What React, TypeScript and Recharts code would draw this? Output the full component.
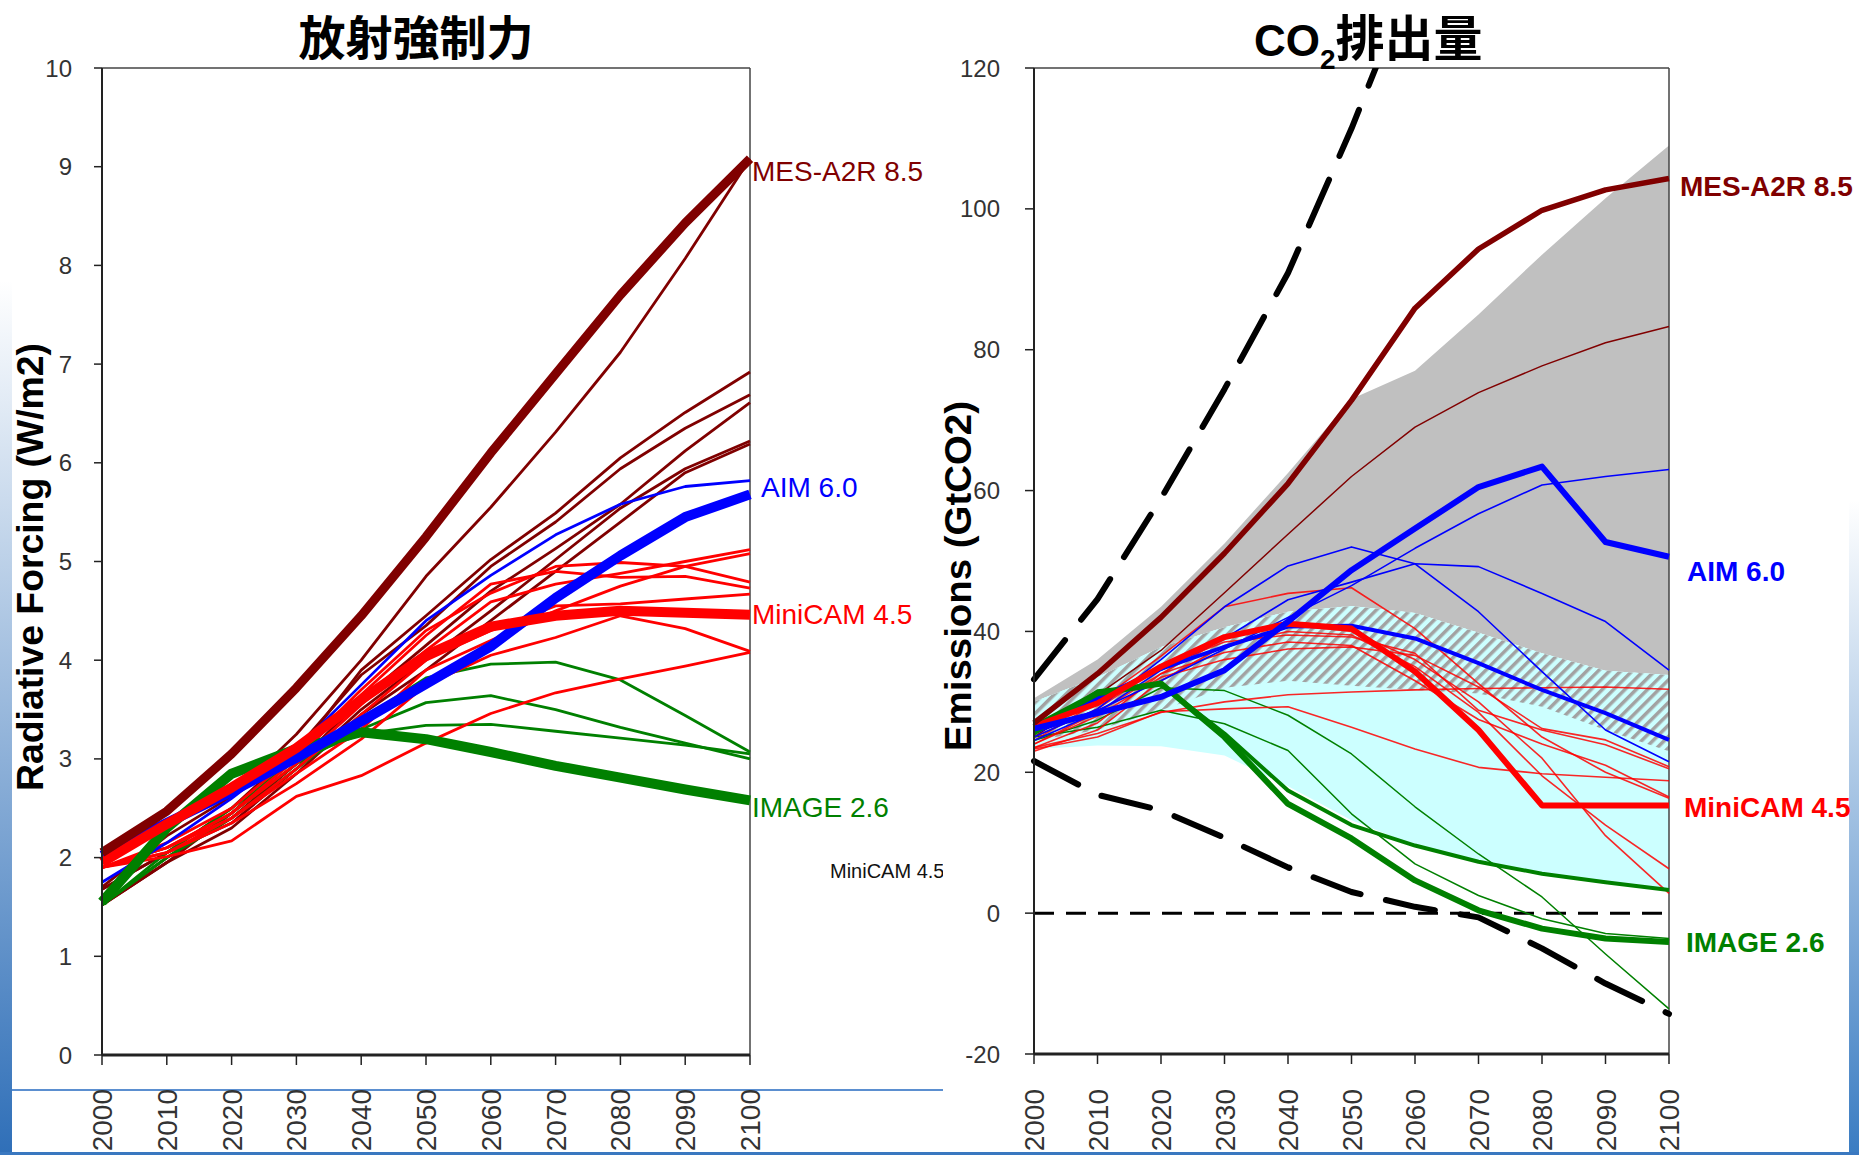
import { ComposedChart, Line, Area, XAxis, YAxis, ReferenceLine, ReferenceDot } from "recharts"

const SANS = '"Liberation Sans", Arial, sans-serif'
const CJK = '"Noto Sans CJK JP", "Noto Sans CJK SC", sans-serif'

const YEARS = [2000, 2010, 2020, 2030, 2040, 2050, 2060, 2070, 2080, 2090, 2100]
const RF_TICKS = [0, 1, 2, 3, 4, 5, 6, 7, 8, 9, 10]
const EM_TICKS = [-20, 0, 20, 40, 60, 80, 100, 120]

// radiative forcing (W/m2)
const rfMes = [2.05, 2.47, 3.05, 3.72, 4.45, 5.25, 6.1, 6.9, 7.7, 8.43, 9.08]
const rfMesOthers = [
  [1.7, 2.22, 2.62, 3.25, 4.0, 4.85, 5.55, 6.31, 7.12, 8.07, 9.08],
  [1.52, 1.95, 2.45, 3.05, 3.9, 4.45, 5.02, 5.49, 6.05, 6.51, 6.92],
  [1.68, 2.05, 2.5, 3.1, 3.85, 4.35, 4.95, 5.4, 5.94, 6.35, 6.69],
  [1.52, 2.0, 2.4, 2.95, 3.6, 4.15, 4.7, 5.13, 5.58, 6.12, 6.61],
  [1.68, 2.05, 2.35, 2.9, 3.5, 4.0, 4.5, 5.02, 5.54, 5.94, 6.22],
  [1.52, 1.95, 2.3, 2.85, 3.45, 3.9, 4.4, 4.9, 5.4, 5.9, 6.19],
]
const rfAim = [2.02, 2.35, 2.67, 3.01, 3.38, 3.76, 4.14, 4.63, 5.06, 5.45, 5.68]
const rfAimOthers = [[1.75, 2.15, 2.6, 3.1, 3.75, 4.4, 4.86, 5.27, 5.58, 5.76, 5.82]]
const rfMini = [1.95, 2.34, 2.71, 3.11, 3.6, 4.05, 4.34, 4.45, 4.5, 4.48, 4.46]
const rfMiniOthers = [
  [1.9, 2.1, 2.45, 2.95, 3.55, 4.1, 4.59, 4.77, 4.88, 5.0, 5.12],
  [1.9, 2.15, 2.5, 3.05, 3.7, 4.3, 4.68, 4.95, 4.99, 4.95, 4.79],
  [1.9, 2.1, 2.45, 3.0, 3.65, 4.25, 4.77, 4.9, 4.84, 4.85, 4.73],
  [1.9, 2.05, 2.4, 2.9, 3.45, 4.0, 4.3, 4.55, 4.57, 4.62, 4.67],
  [1.9, 2.05, 2.35, 2.75, 3.2, 3.75, 4.05, 4.23, 4.45, 4.32, 4.09],
  [1.9, 2.01, 2.17, 2.62, 2.83, 3.16, 3.46, 3.67, 3.81, 3.94, 4.08],
  [1.9, 2.1, 2.4, 2.85, 3.3, 3.9, 4.2, 4.5, 4.75, 4.95, 5.08],
]
const rfImage = [1.55, 2.3, 2.85, 3.1, 3.27, 3.2, 3.07, 2.93, 2.81, 2.69, 2.58]
const rfImageOthers = [
  [1.52, 2.0, 2.4, 2.9, 3.4, 3.82, 3.96, 3.98, 3.8, 3.44, 3.07],
  [1.52, 2.0, 2.45, 2.95, 3.3, 3.57, 3.64, 3.5, 3.32, 3.16, 3.0],
  [1.52, 2.05, 2.5, 3.0, 3.25, 3.34, 3.35, 3.28, 3.21, 3.14, 3.05],
]

// CO2 emissions (GtCO2)
const emMes = [27, 34, 42, 51.1, 61, 72.8, 85.9, 94.3, 99.8, 102.7, 104.3]
const emMesOthers = [[25, 31, 37.3, 45.5, 53.8, 62, 69, 73.9, 77.7, 81, 83.3]]
const emAim = [26.2, 28.4, 30.7, 34.5, 41.4, 48.7, 54.6, 60.5, 63.4, 52.7, 50.6]
const emAimMid = [26.5, 30.5, 34.7, 37.8, 40.7, 40.8, 39.0, 35.5, 31.7, 28.4, 24.6]
const emAimOthers = [
  [25.5, 28.8, 33, 37.5, 42, 46.5, 51.8, 56.7, 60.8, 62, 63],
  [25, 29, 36, 43.5, 49.3, 52, 49.6, 42.8, 34.3, 26, 21.5],
  [24.5, 28.5, 34.5, 39, 44.5, 47, 49.6, 49.2, 45.4, 41.4, 34.5],
]
const emMini = [26.5, 29.8, 35, 39.2, 41.1, 40.4, 34.3, 26.0, 15.3, 15.3, 15.3]
const emMiniOthers = [
  [23.5, 25.5, 28.5, 30, 31, 31.4, 31.7, 31.9, 32, 32.1, 31.8],
  [23.3, 25, 28.6, 29, 29.3, 26.4, 23.3, 20.7, 19.8, 19.3, 18.8],
  [24, 28, 33.5, 36, 37.5, 37.8, 36.6, 32.1, 26.2, 24.6, 20.8],
  [25, 29, 35, 38.5, 39.5, 39.2, 36.9, 28.8, 26, 23.9, 20.5],
  [24.5, 30, 36.5, 43.5, 45.4, 46.2, 40.4, 32.6, 25, 20, 16.3],
  [23, 26, 33, 38, 40, 39.5, 35, 28.5, 19.5, 12.5, 6.3],
  [23.5, 27, 34, 39, 41, 40, 36, 30, 22, 11, 2.8],
  [24, 28.5, 34, 37, 38.5, 38, 33, 27.5, 24, 21, 16.5],
]
const emImage = [26.4, 31.2, 32.6, 25, 15.5, 10.6, 4.65, 0.4, -2.2, -3.6, -4.1]
const emImageMid = [25.5, 31.5, 32.5, 25.5, 17.4, 12.5, 9.6, 7.3, 5.6, 4.4, 3.3]
const emImageOthers = [
  [24.5, 27.4, 32, 31.6, 28.1, 22.6, 15.1, 8.4, 2.3, -5.8, -13.6],
  [25, 26.4, 28.8, 26.9, 23.1, 14.1, 7.0, 2.5, -0.8, -2.9, -3.6],
]
const emHighEdge = [33.2, 44.6, 58.9, 74.4, 90.9, 111.4, 134, null, null, null, null]
const emLowEdge = [21.6, 16.8, 14.6, 10.7, 6.5, 3.0, 0.9, -0.6, -5.0, -10.0, -14.3]
const grayTop = [30.5, 36, 43.5, 52.5, 62.5, 73, 77, 85, 93.5, 101.5, 109]
const hatchTop = [30, 33.5, 37.8, 40.6, 42.8, 43.6, 42.6, 39.8, 36.9, 34.4, 33.8]
const hatchBottom = [24.5, 26, 28.8, 32, 33, 32.3, 31.7, 31.2, 29.3, 26, 23]
const cyanBottom = [23.3, 23.8, 23.7, 22.4, 18, 13.2, 9.6, 7.3, 5.6, 4.4, 3.5]

const rfRows = YEARS.map((year, i) => {
  const row: any = { year, mes: rfMes[i], aim: rfAim[i], mini: rfMini[i], image: rfImage[i] }
  rfMesOthers.forEach((s, k) => (row["mes" + k] = s[i]))
  rfAimOthers.forEach((s, k) => (row["aim" + k] = s[i]))
  rfMiniOthers.forEach((s, k) => (row["mini" + k] = s[i]))
  rfImageOthers.forEach((s, k) => (row["image" + k] = s[i]))
  return row
})

const emRows = YEARS.map((year, i) => {
  const row: any = {
    year,
    mes: emMes[i], aim: emAim[i], aimMid: emAimMid[i], mini: emMini[i],
    image: emImage[i], imageMid: emImageMid[i],
    high: emHighEdge[i], low: emLowEdge[i],
    gray: [hatchTop[i], grayTop[i]],
    cyan: [cyanBottom[i], hatchTop[i]],
    hatch: [hatchBottom[i], hatchTop[i]],
  }
  emMesOthers.forEach((s, k) => (row["mes" + k] = s[i]))
  emAimOthers.forEach((s, k) => (row["aim" + k] = s[i]))
  emMiniOthers.forEach((s, k) => (row["mini" + k] = s[i]))
  emImageOthers.forEach((s, k) => (row["image" + k] = s[i]))
  return row
})

const MAROON = "#800000"
const BLUE = "#0000ff"
const RED = "#ff0000"
const GREEN = "#008000"

function series(key: string, color: string, width: number, extra: any = {}) {
  return (
    <Line
      key={key}
      dataKey={key}
      type="linear"
      stroke={color}
      strokeWidth={width}
      strokeLinejoin="round"
      dot={false}
      activeDot={false}
      isAnimationActive={false}
      {...extra}
    />
  )
}

function YearTick(props: any) {
  const { x, y, payload } = props
  return (
    <text
      x={x}
      y={y}
      transform={`rotate(-90 ${x} ${y})`}
      textAnchor="end"
      dy="0.36em"
      fontSize={28}
      fill="#333"
      fontFamily={SANS}
    >
      {payload.value}
    </text>
  )
}

function EndLabel(props: any) {
  const { viewBox, text, color, dx = 0, dy = 0, weight = 400 } = props
  if (!viewBox) return null
  return (
    <text
      x={viewBox.x + (viewBox.width || 0) + dx}
      y={viewBox.y + (viewBox.height || 0) / 2 + dy}
      fill={color}
      fontSize={28}
      fontWeight={weight}
      fontFamily={SANS}
      dominantBaseline="central"
    >
      {text}
    </text>
  )
}

const last = (a: number[]) => a[a.length - 1]

function ForcingChart() {
  return (
    <ComposedChart width={943} height={1155} data={rfRows} margin={{ top: 68, right: 193, bottom: 40, left: 42 }}>
      <XAxis
        dataKey="year"
        type="number"
        domain={[2000, 2100]}
        ticks={YEARS}
        interval={0}
        height={60}
        tickSize={10}
        tickMargin={24}
        tick={(p: any) => <YearTick {...p} />}
        axisLine={{ stroke: "#222", strokeWidth: 3 }}
        tickLine={{ stroke: "#222", strokeWidth: 1.5 }}
      />
      <YAxis
        type="number"
        domain={[0, 10]}
        ticks={RF_TICKS}
        interval={0}
        width={60}
        tickSize={8}
        tickMargin={22}
        tick={{ fontSize: 24, fill: "#333", fontFamily: SANS }}
        axisLine={{ stroke: "#222", strokeWidth: 2 }}
        tickLine={{ stroke: "#222", strokeWidth: 1.5 }}
      />
      <ReferenceLine y={10} stroke="#444" strokeWidth={1.5} />
      <ReferenceLine x={2100} stroke="#444" strokeWidth={1.5} />
      {rfMesOthers.map((_, k) => series("mes" + k, MAROON, 2.8))}
      {rfImageOthers.map((_, k) => series("image" + k, GREEN, 2.8))}
      {rfMiniOthers.map((_, k) => series("mini" + k, RED, 2.8))}
      {rfAimOthers.map((_, k) => series("aim" + k, BLUE, 2.8))}
      {series("image", GREEN, 10)}
      {series("aim", BLUE, 10)}
      {series("mini", RED, 10)}
      {series("mes", MAROON, 9)}
      <ReferenceDot x={2100} y={last(rfMes)} r={0} fill="none" stroke="none"
        label={<EndLabel text="MES-A2R 8.5" color={MAROON} dx={2} dy={13} />} />
      <ReferenceDot x={2100} y={last(rfAim)} r={0} fill="none" stroke="none"
        label={<EndLabel text="AIM 6.0" color={BLUE} dx={11} dy={-7} />} />
      <ReferenceDot x={2100} y={last(rfMini)} r={0} fill="none" stroke="none"
        label={<EndLabel text="MiniCAM 4.5" color={RED} dx={2} dy={0} />} />
      <ReferenceDot x={2100} y={last(rfImage)} r={0} fill="none" stroke="none"
        label={<EndLabel text="IMAGE 2.6" color={GREEN} dx={2} dy={7} />} />
    </ComposedChart>
  )
}

function EmissionsChart() {
  return (
    <ComposedChart width={916} height={1155} data={emRows} margin={{ top: 68, right: 190, bottom: 41, left: 31 }}>
      <defs>
        <pattern id="hatch" width="8" height="8" patternUnits="userSpaceOnUse" patternTransform="rotate(45)">
          <rect x="0" y="0" width="8" height="8" fill="#ccffff" />
          <rect x="0" y="0" width="3.5" height="8" fill="#a2a2a2" />
        </pattern>
      </defs>
      <XAxis
        dataKey="year"
        type="number"
        domain={[2000, 2100]}
        ticks={YEARS}
        interval={0}
        height={60}
        tickSize={10}
        tickMargin={25}
        tick={(p: any) => <YearTick {...p} />}
        axisLine={{ stroke: "#222", strokeWidth: 3 }}
        tickLine={{ stroke: "#222", strokeWidth: 1.5 }}
      />
      <YAxis
        type="number"
        domain={[-20, 120]}
        allowDataOverflow
        ticks={EM_TICKS}
        interval={0}
        width={60}
        tickSize={9}
        tickMargin={25}
        tick={{ fontSize: 24, fill: "#333", fontFamily: SANS }}
        axisLine={{ stroke: "#222", strokeWidth: 2 }}
        tickLine={{ stroke: "#222", strokeWidth: 1.5 }}
      />
      <ReferenceLine y={120} stroke="#444" strokeWidth={1.5} />
      <ReferenceLine x={2100} stroke="#444" strokeWidth={1.5} />
      <Area dataKey="gray" type="linear" stroke="none" fill="#c0c0c0" fillOpacity={1} isAnimationActive={false} activeDot={false} />
      <Area dataKey="cyan" type="linear" stroke="none" fill="#ccffff" fillOpacity={1} isAnimationActive={false} activeDot={false} />
      <Area dataKey="hatch" type="linear" stroke="none" fill="url(#hatch)" fillOpacity={1} isAnimationActive={false} activeDot={false} />
      <ReferenceLine y={0} stroke="#000" strokeWidth={3} strokeDasharray="20 12" />
      {emMesOthers.map((_, k) => series("mes" + k, MAROON, 1.5))}
      {emImageOthers.map((_, k) => series("image" + k, GREEN, 1.5))}
      {emMiniOthers.map((_, k) => series("mini" + k, RED, 1.6, { strokeOpacity: 0.85 }))}
      {emAimOthers.map((_, k) => series("aim" + k, BLUE, 1.6))}
      {series("imageMid", GREEN, 4)}
      {series("aimMid", BLUE, 4)}
      {series("image", GREEN, 6)}
      {series("mini", RED, 6)}
      {series("aim", BLUE, 6)}
      {series("mes", MAROON, 5.5)}
      {series("high", "#000", 6, { strokeDasharray: "50 26", strokeLinecap: "round" })}
      {series("low", "#000", 6, { strokeDasharray: "50 26", strokeLinecap: "round" })}
      <ReferenceDot x={2100} y={last(emMes)} r={0} fill="none" stroke="none"
        label={<EndLabel text="MES-A2R 8.5" color={MAROON} dx={11} dy={8} weight={700} />} />
      <ReferenceDot x={2100} y={last(emAim)} r={0} fill="none" stroke="none"
        label={<EndLabel text="AIM 6.0" color={BLUE} dx={18} dy={15} weight={700} />} />
      <ReferenceDot x={2100} y={last(emMini)} r={0} fill="none" stroke="none"
        label={<EndLabel text="MiniCAM 4.5" color={RED} dx={15} dy={2} weight={700} />} />
      <ReferenceDot x={2100} y={last(emImage)} r={0} fill="none" stroke="none"
        label={<EndLabel text="IMAGE 2.6" color={GREEN} dx={17} dy={0} weight={700} />} />
    </ComposedChart>
  )
}

export default function App() {
  return (
    <div style={{ position: "absolute", left: 0, top: 0, width: 1859, height: 1155, background: "#fff", overflow: "hidden" }}>
      <div style={{ position: "absolute", left: 0, top: 280, width: 12, height: 875, background: "linear-gradient(to bottom, rgba(255,255,255,0), #2f6fb8)" }} />
      <div style={{ position: "absolute", left: 1849, top: 500, width: 10, height: 655, background: "linear-gradient(to bottom, rgba(255,255,255,0), #3a7cc2)" }} />
      <div style={{ position: "absolute", left: 12, top: 1089, width: 931, height: 2, background: "#5b8fd0" }} />
      <div style={{ position: "absolute", left: 0, top: 1152, width: 1859, height: 3, background: "#3a78c0" }} />
      <div style={{ position: "absolute", left: 0, top: 0 }}>
        <ForcingChart />
      </div>
      <div style={{ position: "absolute", left: 943, top: 0 }}>
        <EmissionsChart />
      </div>
      <div style={{ position: "absolute", left: 830, top: 858, width: 113, overflow: "hidden", whiteSpace: "nowrap", fontFamily: SANS, fontSize: 20, lineHeight: "26px", color: "#111" }}>
        MiniCAM 4.5
      </div>
      <div style={{ position: "absolute", left: 216, top: 11, width: 400, textAlign: "center", fontFamily: CJK, fontWeight: 700, fontSize: 47, lineHeight: "47px", color: "#000", whiteSpace: "nowrap" }}>
        放射強制力
      </div>
      <div style={{ position: "absolute", left: 1254, top: 11, fontFamily: CJK, fontWeight: 700, fontSize: 49, lineHeight: "47px", color: "#000", whiteSpace: "nowrap" }}>
        <span style={{ fontFamily: SANS, fontSize: 44 }}>CO</span>
        <span style={{ fontFamily: SANS, fontSize: 28, position: "relative", top: 13 }}>2</span>
        <span>排出量</span>
      </div>
      <svg width={1859} height={1155} style={{ position: "absolute", left: 0, top: 0, pointerEvents: "none" }}>
        <text
          transform="translate(30 567) rotate(-90)"
          textAnchor="middle"
          dominantBaseline="central"
          fontFamily={SANS}
          fontWeight={700}
          fontSize={36}
          textLength={448}
          lengthAdjust="spacingAndGlyphs"
          fill="#000"
        >
          Radiative Forcing (W/m2)
        </text>
        <text
          transform="translate(958 576) rotate(-90)"
          textAnchor="middle"
          dominantBaseline="central"
          fontFamily={SANS}
          fontWeight={700}
          fontSize={37}
          textLength={350}
          lengthAdjust="spacingAndGlyphs"
          fill="#000"
        >
          Emissions (GtCO2)
        </text>
      </svg>
    </div>
  )
}
